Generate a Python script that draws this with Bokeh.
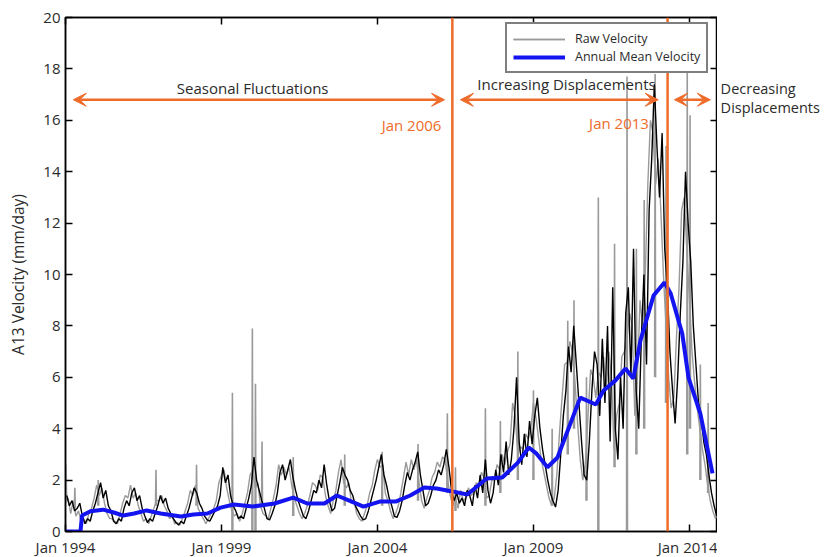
from bokeh.plotting import figure
from bokeh.embed import file_html
from bokeh.resources import INLINE
from bokeh.layouts import row
from bokeh.models import (Arrow, VeeHead, Label, Span, LinearAxis, Legend,
                          LegendItem, FixedTicker, Range1d)
import numpy as np

# ---------------- data ----------------
start_year = 1994
# monthly velocity (mm/day), Jan..Dec per year (dark trace)
black_vel = [
    1.4, 1.0, 1.2, 0.8, 0.9, 1.1, 0.6, 0.3, 0.5, 0.4, 0.8, 1.1,      # 1994
    1.5, 1.9, 1.3, 1.6, 1.0, 0.8, 0.4, 0.3, 0.5, 0.4, 0.9, 1.2,      # 1995
    1.0, 1.5, 1.7, 1.2, 1.4, 0.9, 0.6, 0.35, 0.5, 0.4, 0.7, 1.0,     # 1996
    1.4, 1.1, 1.3, 0.9, 0.7, 0.5, 0.35, 0.25, 0.4, 0.3, 0.6, 0.9,    # 1997
    1.3, 1.7, 1.5, 1.1, 0.9, 0.6, 0.45, 0.4, 0.6, 0.8, 1.0, 1.4,     # 1998
    2.5, 1.9, 2.2, 1.4, 1.0, 0.8, 0.5, 0.6, 0.5, 0.9, 1.3, 1.8,      # 1999
    2.9, 2.0, 1.6, 1.2, 0.9, 0.5, 0.45, 0.7, 1.0, 1.5, 2.3, 2.6,     # 2000
    2.0, 2.4, 2.8, 2.1, 1.6, 1.2, 0.9, 0.6, 0.5, 0.8, 1.2, 1.6,      # 2001
    1.5, 2.0, 1.7, 2.6, 1.8, 1.2, 0.8, 0.9, 1.4, 1.9, 2.5, 2.2,      # 2002
    2.0, 1.6, 1.4, 1.0, 0.8, 0.6, 0.45, 0.5, 0.8, 1.2, 1.6, 2.0,     # 2003
    2.5, 3.0, 2.2, 1.8, 1.3, 1.0, 0.6, 0.55, 0.8, 1.2, 1.8, 2.3,     # 2004
    2.0, 2.4, 2.7, 3.1, 2.2, 1.6, 1.0, 1.1, 1.4, 1.8, 2.0, 2.4,      # 2005
    2.2, 2.6, 3.2, 2.5, 1.6, 1.2, 1.5, 1.1, 1.3, 1.0, 1.6, 1.4,      # 2006
    1.0, 1.8, 1.3, 2.2, 1.5, 2.8, 1.6, 1.1, 1.5, 2.4, 1.8, 3.0,      # 2007
    2.3, 3.5, 2.2, 2.8, 4.0, 6.0, 3.5, 2.6, 3.8, 2.9, 4.3, 3.4,      # 2008
    4.5, 5.2, 4.0, 3.2, 2.6, 2.0, 1.5, 1.2, 0.95, 1.6, 3.0, 4.5,     # 2009
    5.5, 7.2, 6.2, 8.0, 6.5, 5.0, 3.5, 2.2, 2.0, 3.5, 5.5, 7.0,      # 2010
    6.5, 4.5, 7.5, 5.0, 8.0, 3.5, 9.5, 4.0, 2.8, 6.0, 4.0, 8.5,      # 2011
    9.5, 6.0, 11.0, 5.5, 4.0, 7.5, 10.0, 6.5, 12.5, 14.5, 17.4, 15.0,  # 2012
    13.0, 15.5, 11.0, 9.5, 7.0, 5.5, 4.2, 6.0, 8.5, 10.5, 14.0, 12.0,  # 2013
    10.5, 8.0, 6.5, 5.0, 4.5, 3.5, 3.0, 2.2, 1.5, 1.0, 0.6, 0.9,     # 2014
]
# mid-month raw velocity (grey trace)
raw_vel = [
    1.1, 1.3, 0.7, 1.2, 0.6, 0.8, 0.4, 0.5, 0.3, 0.7, 0.9, 1.3,      # 1994
    1.8, 1.4, 1.7, 1.1, 0.7, 0.5, 0.5, 0.4, 0.3, 0.7, 1.1, 1.4,      # 1995
    1.3, 1.8, 1.3, 1.5, 1.0, 0.7, 0.4, 0.5, 0.3, 0.6, 0.9, 1.2,      # 1996
    1.2, 1.4, 1.0, 0.8, 0.5, 0.6, 0.3, 0.35, 0.25, 0.5, 0.8, 1.1,    # 1997
    1.6, 1.4, 1.8, 0.9, 0.7, 0.5, 0.3, 0.5, 0.7, 0.9, 1.2, 1.9,      # 1998
    2.2, 2.4, 1.7, 1.2, 0.8, 0.6, 0.7, 0.4, 0.7, 1.1, 1.5, 2.2,      # 1999
    2.4, 1.7, 1.9, 1.0, 0.7, 0.6, 0.5, 0.9, 1.3, 1.8, 2.6, 2.2,      # 2000
    2.5, 2.2, 2.5, 1.8, 1.3, 1.0, 0.7, 0.5, 0.7, 1.0, 1.4, 1.9,      # 2001
    1.8, 1.6, 2.2, 2.1, 1.4, 1.0, 0.7, 1.2, 1.6, 2.3, 2.8, 1.9,      # 2002
    1.7, 1.9, 1.1, 1.2, 0.7, 0.5, 0.4, 0.7, 1.0, 1.5, 1.8, 2.4,      # 2003
    2.8, 2.5, 2.6, 1.5, 1.2, 0.8, 0.5, 0.7, 1.0, 1.5, 2.1, 2.7,      # 2004
    2.2, 2.8, 2.4, 2.8, 1.9, 1.2, 0.9, 1.3, 1.6, 2.1, 2.3, 2.7,      # 2005
    2.5, 2.9, 2.8, 2.0, 1.4, 1.0, 1.3, 0.9, 1.6, 1.2, 1.3, 1.7,      # 2006
    1.4, 1.5, 1.9, 1.8, 2.3, 2.1, 1.3, 1.4, 2.0, 2.0, 2.6, 2.4,      # 2007
    3.0, 2.6, 3.1, 3.4, 5.0, 4.5, 3.0, 3.3, 3.2, 3.8, 3.6, 4.0,      # 2008
    5.0, 4.4, 3.6, 2.8, 2.3, 1.8, 1.3, 1.0, 1.3, 2.2, 3.8, 5.2,      # 2009
    6.5, 6.6, 7.4, 7.0, 5.8, 4.2, 2.8, 2.0, 2.7, 4.5, 6.3, 6.0,      # 2010
    5.2, 6.2, 6.0, 6.8, 5.5, 7.0, 6.0, 3.2, 4.5, 5.0, 6.8, 7.0,      # 2011
    7.5, 8.5, 8.0, 4.5, 6.0, 9.0, 8.0, 10.0, 13.5, 16.0, 15.5, 13.5,  # 2012
    14.5, 12.5, 10.0, 8.0, 6.0, 4.8, 5.2, 7.5, 9.5, 12.5, 13.0, 11.0,  # 2013
    9.0, 7.0, 5.8, 4.8, 4.0, 3.2, 2.6, 1.8, 1.2, 0.8, 0.5, 0.7,      # 2014
]

# isolated raw-velocity spikes: time (yr), level before/after, peak value
spike_time = [1994.02, 1994.30, 1995.05, 1996.90, 1998.20, 1999.35, 1999.99,
              2000.09, 2000.30, 2001.30, 2002.95, 2004.15, 2005.30, 2006.24,
              2006.50, 2007.46, 2007.94, 2008.50, 2009.00, 2009.60, 2010.10,
              2010.30, 2010.70, 2011.08, 2011.60, 2012.00, 2012.30, 2012.55,
              2012.90, 2013.25, 2013.93, 2014.02, 2014.35, 2014.60]
spike_base = [1.2, 0.9, 1.0, 1.0, 1.0, 0.0, 0.0,
              0.0, 1.0, 0.6, 1.0, 1.0, 1.2, 1.5,
              0.8, 1.0, 1.5, 2.0, 2.0, 1.0, 3.0,
              4.0, 1.2, 0.0, 2.5, 0.0, 3.0, 4.0,
              6.0, 5.0, 3.0, 4.0, 2.0, 1.5]
spike_peak = [2.6, 1.7, 2.0, 2.4, 2.6, 5.4, 7.9,
              5.75, 3.5, 2.9, 3.0, 3.1, 3.4, 4.6,
              2.5, 4.8, 4.3, 7.0, 5.5, 4.0, 8.2,
              9.0, 6.0, 13.0, 11.2, 17.7, 11.0, 12.9,
              17.8, 15.0, 18.1, 16.2, 6.5, 5.0]

# annual mean velocity
mean_t = [1994.0, 1994.48, 1994.53, 1994.8, 1995.2, 1995.55, 1995.85, 1996.2,
          1996.6, 1997.05, 1997.7, 1998.1, 1998.55, 1998.97, 1999.4, 2000.0,
          2000.7, 2001.3, 2001.75, 2002.3, 2002.7, 2003.1, 2003.55, 2004.1,
          2004.6, 2005.05, 2005.5, 2005.9, 2006.4, 2006.88, 2007.5, 2008.0,
          2008.5, 2008.85, 2009.1, 2009.45, 2009.77, 2010.1, 2010.5, 2011.0,
          2011.25, 2011.63, 2011.95, 2012.2, 2012.43, 2012.85, 2013.2, 2013.4,
          2013.77, 2013.97, 2014.35, 2014.74]
mean_v = [0.0, 0.0, 0.62, 0.79, 0.85, 0.74, 0.62, 0.70,
          0.82, 0.70, 0.58, 0.66, 0.70, 0.93, 1.05, 0.97,
          1.09, 1.32, 1.09, 1.09, 1.40, 1.20, 0.97, 1.17,
          1.17, 1.40, 1.71, 1.67, 1.56, 1.44, 2.06, 2.10,
          2.68, 3.27, 3.03, 2.50, 2.88, 3.93, 5.21, 4.94,
          5.49, 5.88, 6.34, 5.95, 7.43, 9.18, 9.69, 9.26,
          7.70, 5.99, 4.59, 2.26]

tick_years = [1994, 1999, 2004, 2009, 2014]
tick_labels = ["Jan 1994", "Jan 1999", "Jan 2004", "Jan 2009", "Jan 2014"]
y_ticks = [0, 2, 4, 6, 8, 10, 12, 14, 16, 18, 20]

event_years = [2006.4, 2013.3]
event_labels = ["Jan 2006", "Jan 2013"]
phase_labels = ["Seasonal Fluctuations", "Increasing Displacements",
                "Decreasing", "Displacements"]

# ---------------- derived arrays ----------------
black_t = [start_year + m / 12.0 + 1 / 24.0 for m in range(len(black_vel))]
raw_t = [start_year + m / 12.0 for m in range(len(raw_vel))]

gray_t, gray_v = [], []
for t, b, pk in zip(spike_time, spike_base, spike_peak):
    gray_t += [t - 0.015, t, t + 0.015, np.nan]
    gray_v += [b, pk, b, np.nan]

# ---------------- figure ----------------
ORANGE = "#EE6B2A"
FONT = "Open Sans"
TXT = "#2b2b2b"
GRAY = "#9a9a9a"

p = figure(frame_width=652, frame_height=514, output_backend="svg",
           toolbar_location=None, x_range=Range1d(1994.0, 2014.9),
           y_range=Range1d(0, 20), min_border_left=65, min_border_right=0,
           min_border_top=17, min_border_bottom=24)
p.grid.visible = False
p.outline_line_color = "black"
p.outline_line_width = 1.5

bottom_ax = p.xaxis[0]
left_ax = p.yaxis[0]

gray_r = p.line(raw_t, raw_vel, line_color=GRAY, line_width=1.4)
spike_r = p.line(gray_t, gray_v, line_color=GRAY, line_width=1.6)
p.line(black_t, black_vel, line_color="black", line_width=1.4)
blue_r = p.line(mean_t, mean_v, line_color="#1414F0", line_width=4)

# event lines
for yr in event_years:
    p.add_layout(Span(location=yr, dimension="height", line_color=ORANGE,
                      line_width=2.5))

# axes
bottom_ax.ticker = FixedTicker(ticks=tick_years)
bottom_ax.major_label_overrides = {y: l for y, l in zip(tick_years, tick_labels)}
left_ax.ticker = FixedTicker(ticks=y_ticks)
left_ax.axis_label = "A13 Velocity (mm/day)"

top_ax = LinearAxis(ticker=FixedTicker(ticks=tick_years))
right_ax = LinearAxis(ticker=FixedTicker(ticks=y_ticks))
p.add_layout(top_ax, "above")
p.add_layout(right_ax, "right")

for ax in [bottom_ax, left_ax, top_ax, right_ax]:
    ax.major_tick_in = 7
    ax.major_tick_out = 0
    ax.minor_tick_line_color = None
    ax.axis_line_color = "black"
    ax.axis_line_width = 1.5
    ax.major_tick_line_width = 1.5
    ax.major_label_text_font = FONT
    ax.major_label_text_font_size = "15px"
    ax.major_label_text_color = TXT
    ax.axis_label_text_font = FONT
    ax.axis_label_text_font_size = "15.5px"
    ax.axis_label_text_font_style = "normal"
    ax.axis_label_text_color = TXT
for ax in [top_ax, right_ax]:
    ax.major_label_text_font_size = "0px"
    ax.major_label_standoff = 0
bottom_ax.major_label_standoff = 5
left_ax.major_label_standoff = 5
left_ax.axis_label_standoff = 11

# arrows
arrow_y = 16.8
arrows = [(1994.25, 2006.15), (2006.66, 2013.0), (2013.52, 2014.67)]
for xs, xe in arrows:
    p.add_layout(Arrow(
        start=VeeHead(size=13, fill_color=ORANGE, line_color=ORANGE),
        end=VeeHead(size=13, fill_color=ORANGE, line_color=ORANGE),
        x_start=xs, y_start=arrow_y, x_end=xe, y_end=arrow_y,
        line_color=ORANGE, line_width=2.5))

# texts
def lab(fig, x, y, text, color=TXT, align="center", size="15px"):
    fig.add_layout(Label(x=x, y=y, text=text, text_font=FONT,
                         text_font_size=size, text_color=color,
                         text_align=align, text_baseline="middle"))

lab(p, 2000.0, 17.25, phase_labels[0])
lab(p, 2010.06, 17.4, phase_labels[1])
lab(p, 2006.05, 15.8, event_labels[0], color=ORANGE, align="right")
lab(p, 2012.7, 15.9, event_labels[1], color=ORANGE, align="right")

legend = Legend(items=[LegendItem(label="Raw Velocity",
                                  renderers=[gray_r, spike_r]),
                       LegendItem(label="Annual Mean Velocity",
                                  renderers=[blue_r])],
                location=(440, 458))
legend.border_line_color = "black"
legend.border_line_width = 2.5
legend.background_fill_color = "white"
legend.background_fill_alpha = 1.0
legend.label_text_font = FONT
legend.label_text_font_size = "12.5px"
legend.label_text_color = TXT
legend.glyph_width = 52
legend.glyph_height = 12
legend.label_height = 12
legend.spacing = 1
legend.padding = 6
legend.margin = 0
legend.label_standoff = 10
p.add_layout(legend)

# side panel for the text beyond the plot box
p2 = figure(frame_width=104, frame_height=514, output_backend="svg",
            toolbar_location=None, x_range=Range1d(0, 1),
            y_range=Range1d(0, 20), min_border_left=0, min_border_right=0,
            min_border_top=17, min_border_bottom=24)
p2.axis.visible = False
p2.grid.visible = False
p2.outline_line_color = None
lab(p2, 0.03, 17.25, phase_labels[2], align="left", size="14.5px")
lab(p2, 0.03, 16.5, phase_labels[3], align="left", size="14.5px")

layout = row(p, p2, spacing=0)
open("out.html", "w").write(file_html(layout, INLINE))
